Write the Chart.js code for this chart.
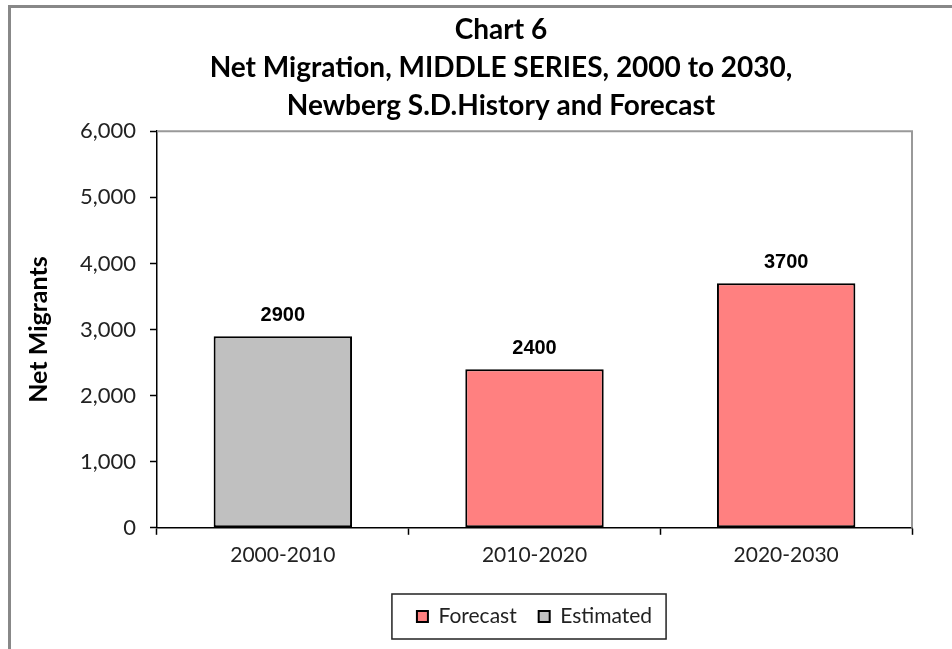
<!DOCTYPE html>
<html>
<head>
<meta charset="utf-8">
<script src="https://cdn.jsdelivr.net/npm/chart.js@4"></script>
<style>
  html, body { margin: 0; padding: 0; background: #fff; }
  .frame { position: relative; width: 952px; height: 649px; overflow: hidden; }
  .frame .edge { position: absolute; left: 8px; top: 5px; width: 960px; height: 700px;
                 border-left: 3px solid #888; border-top: 3px solid #888; }
  canvas { position: absolute; left: 0; top: 0; }
</style>
</head>
<body>
<div class="frame">
  <div class="edge"></div>
  <canvas id="migration" width="952" height="649"></canvas>
</div>
<script>
// data
const periods = ['2000-2010', '2010-2020', '2020-2030'];
const forecast = [null, 2400, 3700];
const estimated = [2900, null, null];
const yTicks = [0, 1000, 2000, 3000, 4000, 5000, 6000];
const titleLines = ['Chart 6', 'Net Migration, MIDDLE SERIES, 2000 to 2030,', 'Newberg S.D.History and Forecast'];

const labelFont = 'Lato';

// value labels above each bar
const barLabels = {
  id: 'barLabels',
  afterDatasetsDraw(chart) {
    const ctx = chart.ctx;
    ctx.save();
    ctx.font = 'bold 20px "Liberation Sans", Arial';
    ctx.fillStyle = '#000';
    ctx.textAlign = 'center';
    ctx.textBaseline = 'middle';
    chart.data.datasets.forEach((ds, i) => {
      chart.getDatasetMeta(i).data.forEach((bar, j) => {
        if (ds.data[j] == null) return;
        ctx.fillText(String(ds.data[j]), bar.x, bar.y - 21);
      });
    });
    ctx.restore();
  }
};

// grey frame round the plot, box round the legend, title shift
const frames = {
  id: 'frames',
  afterLayout(chart) {
    chart.titleBlock.left = 90;
  },
  beforeDatasetsDraw(chart) {
    const {ctx, chartArea: a} = chart;
    ctx.save();
    ctx.strokeStyle = '#999';
    ctx.lineWidth = 2;
    ctx.beginPath();
    ctx.moveTo(a.left, a.top);
    ctx.lineTo(a.right, a.top);
    ctx.lineTo(a.right, a.bottom);
    ctx.stroke();
    ctx.restore();
  },
  afterDraw(chart) {
    const boxes = chart.legend.legendHitBoxes;
    if (!boxes || !boxes.length) return;
    const left = Math.min(...boxes.map(b => b.left)) - 25;
    const right = Math.max(...boxes.map(b => b.left + b.width)) + 14;
    const top = Math.min(...boxes.map(b => b.top)) - 12;
    const bottom = Math.max(...boxes.map(b => b.top + b.height)) + 12;
    const ctx = chart.ctx;
    ctx.save();
    ctx.strokeStyle = '#222';
    ctx.lineWidth = 1.5;
    ctx.strokeRect(left, top, right - left, bottom - top);
    ctx.restore();
  }
};

new Chart(document.getElementById('migration'), {
  type: 'bar',
  data: {
    labels: periods,
    datasets: [
      {
        label: 'Forecast',
        data: forecast,
        backgroundColor: '#FF8080',
        borderColor: '#000',
        borderWidth: 2,
        borderSkipped: false
      },
      {
        label: 'Estimated',
        data: estimated,
        backgroundColor: '#C0C0C0',
        borderColor: '#000',
        borderWidth: 2,
        borderSkipped: false
      }
    ]
  },
  plugins: [barLabels, frames],
  options: {
    responsive: false,
    animation: false,
    layout: { padding: { left: 20, right: 40, top: 0, bottom: 12 } },
    datasets: { bar: { barPercentage: 0.55, categoryPercentage: 1 } },
    scales: {
      x: {
        stacked: true,
        afterFit(scale) { scale.height += 8; },
        grid: { drawOnChartArea: false, offset: true, tickLength: 7, tickColor: '#000', tickWidth: 1.5 },
        border: { color: '#000', width: 1.5 },
        ticks: { padding: 8, color: '#222', font: { family: labelFont, size: 21 } }
      },
      y: {
        stacked: true,
        min: 0,
        max: 6000,
        afterBuildTicks(scale) { scale.ticks = yTicks.map(v => ({ value: v })); },
        afterFit(scale) { scale.width = 137; },
        grid: { drawOnChartArea: false, tickLength: 7, tickColor: '#000', tickWidth: 1.5 },
        border: { color: '#000', width: 1.5 },
        ticks: {
          padding: 14,
          color: '#222',
          font: { family: labelFont, size: 22 },
          callback: v => v.toLocaleString('en-US')
        },
        title: {
          display: true,
          text: 'Net Migrants',
          color: '#000',
          padding: { top: 4, bottom: 0 },
          font: { family: labelFont, size: 25, weight: 'bold' }
        }
      }
    },
    plugins: {
      title: {
        display: true,
        text: titleLines,
        color: '#000',
        padding: { top: 11, bottom: 6 },
        font: { family: labelFont, size: 28, weight: 'bold', lineHeight: 1.36 }
      },
      legend: {
        position: 'bottom',
        fullSize: false,
        labels: {
          color: '#222',
          boxWidth: 11,
          boxHeight: 11,
          padding: 22,
          font: { family: labelFont, size: 21 }
        }
      },
      tooltip: { enabled: false }
    }
  }
});
</script>
</body>
</html>
